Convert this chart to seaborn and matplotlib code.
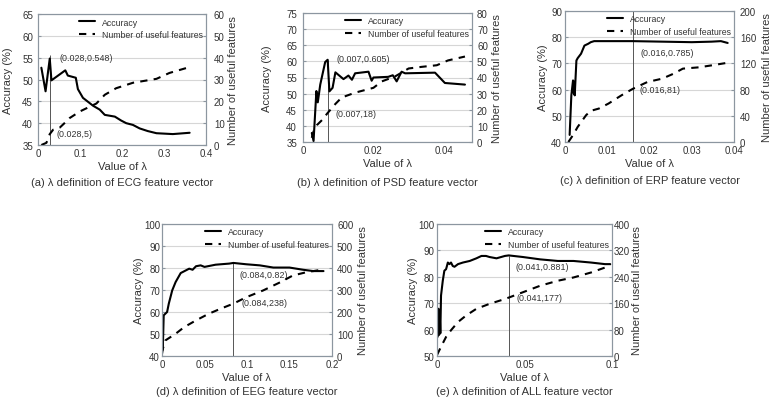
import matplotlib
matplotlib.use('Agg')
import matplotlib.pyplot as plt
import seaborn as sns

sns.set_style('white')
plt.rcParams['font.family'] = ['Liberation Sans', 'DejaVu Sans']

# ---------------- data ----------------
# (a) ECG
ecg_lam_acc = [0.008, 0.018, 0.028, 0.032, 0.065, 0.071, 0.090, 0.095, 0.107, 0.131, 0.147,
               0.159, 0.183, 0.198, 0.210, 0.226, 0.242, 0.261, 0.282, 0.321, 0.361]
ecg_acc = [52.7, 47.3, 54.8, 49.8, 52.1, 50.9, 50.4, 47.8, 45.8, 44.0, 43.1,
           41.9, 41.5, 40.6, 40.0, 39.6, 38.8, 38.2, 37.7, 37.5, 37.8]
ecg_lam_n = [0.008, 0.020, 0.028, 0.036, 0.052, 0.063, 0.075, 0.100, 0.139, 0.159, 0.186,
             0.226, 0.282, 0.313, 0.361]
ecg_n = [0, 1, 5, 7, 8, 10, 12.3, 15.4, 19, 23, 26, 28.5, 30.3, 33, 35.7]

# (b) PSD
psd_lam_acc = [0.0025, 0.003, 0.0038, 0.0042, 0.0049, 0.0063, 0.007, 0.0075, 0.0084, 0.0092,
               0.0115, 0.0129, 0.0139, 0.0148, 0.0186, 0.0195, 0.020, 0.0242, 0.0255, 0.0266,
               0.028, 0.029, 0.0375, 0.0403, 0.046]
psd_acc = [37.8, 35.3, 50.8, 47.3, 52.8, 59.8, 60.5, 50.7, 51.8, 56.6,
           54.5, 55.6, 54.3, 56.3, 56.8, 54.0, 55.0, 55.2, 55.7, 53.8,
           56.8, 56.3, 56.5, 53.3, 52.8]
psd_lam_n = [0.0025, 0.003, 0.004, 0.0054, 0.007, 0.0092, 0.011, 0.0148, 0.020, 0.0224,
             0.0261, 0.030, 0.0337, 0.038, 0.0412, 0.046]
psd_n = [2.6, 6.6, 10.6, 13.6, 18, 23.6, 27.6, 30.6, 33.6, 37.6, 40.6, 45.6, 46.6, 47.6, 50.6, 53]

# (c) ERP
erp_lam_acc = [0.0011, 0.0015, 0.0019, 0.0021, 0.0022, 0.0023, 0.0027, 0.003, 0.0038, 0.0046,
               0.0055, 0.0061, 0.0069, 0.016, 0.030, 0.0347, 0.0369, 0.0385]
erp_acc = [42.7, 57.8, 63.5, 58.5, 63.0, 57.8, 71.1, 72.0, 73.7, 76.8,
           77.5, 78.1, 78.5, 78.5, 78.1, 78.3, 78.5, 77.8]
erp_lam_n = [0.0008, 0.0019, 0.003, 0.005, 0.0061, 0.008, 0.0103, 0.0134, 0.016, 0.0195,
             0.023, 0.0256, 0.0279, 0.0317, 0.0347, 0.0385]
erp_n = [0, 10.6, 23, 41, 47.6, 51, 58.7, 71.4, 81, 91.6, 96.7, 104, 112, 114, 117, 121]

# (d) EEG
eeg_lam_acc = [0.0, 0.0004, 0.0012, 0.002, 0.006, 0.008, 0.012, 0.016, 0.022, 0.028, 0.032,
               0.036, 0.040, 0.0455, 0.050, 0.063, 0.079, 0.084, 0.099, 0.115, 0.131, 0.150,
               0.166, 0.178, 0.190]
eeg_acc = [53.2, 42.6, 47.1, 58.5, 60.0, 63.8, 69.8, 73.6, 77.7, 78.9, 79.7,
           79.2, 80.8, 81.2, 80.5, 81.5, 82.0, 82.3, 81.7, 81.2, 80.2, 80.2,
           79.2, 78.6, 78.6]
eeg_lam_n = [0.0, 0.001, 0.004, 0.010, 0.016, 0.026, 0.040, 0.055, 0.069, 0.084, 0.099,
             0.119, 0.139, 0.154, 0.170, 0.186, 0.190]
eeg_n = [10, 33, 71, 86, 101, 131, 162, 192, 215, 238, 267, 298, 335, 366, 381, 391, 396]

# (e) ALL
all_lam_acc = [0.0004, 0.0008, 0.0012, 0.0015, 0.0019, 0.0023, 0.0033, 0.0042, 0.0052, 0.0062,
               0.0071, 0.008, 0.009, 0.010, 0.012, 0.0148, 0.0187, 0.0225, 0.0254, 0.028,
               0.030, 0.034, 0.0388, 0.041, 0.049, 0.059, 0.069, 0.078, 0.088, 0.096, 0.099]
all_acc = [57.3, 67.9, 58.0, 67.3, 58.6, 72.9, 78.5, 82.3, 82.9, 85.4,
           84.8, 85.4, 84.1, 83.8, 84.8, 85.4, 86.0, 87.0, 87.9, 87.9,
           87.5, 87.0, 87.9, 88.1, 87.5, 86.6, 86.0, 86.0, 85.4, 84.8, 84.8]
all_lam_n = [0.0, 0.0023, 0.0052, 0.008, 0.012, 0.0167, 0.0225, 0.030, 0.039, 0.041, 0.049,
             0.059, 0.069, 0.078, 0.088, 0.096, 0.099]
all_n = [3, 28, 58, 78, 103, 123, 143, 158, 173, 177, 193, 213, 228, 238, 253, 268, 278]

captions = ["(a) λ definition of ECG feature vector",
            "(b) λ definition of PSD feature vector",
            "(c) λ definition of ERP feature vector",
            "(d) λ definition of EEG feature vector",
            "(e) λ definition of ALL feature vector"]
best_lam = [0.028, 0.007, 0.016, 0.084, 0.041]
best_acc = [0.548, 0.605, 0.785, 0.82, 0.881]
best_n = [5, 18, 81, 238, 177]

W, H = 774, 402
TXT = '#333333'
EDGE = '#8c96a0'
GRID = '#d6d6d6'

panels = [
    # rect in pixels (x0, y0, x1, y1), ylabel offsets and tick-label gaps (px, left / right),
    # caption y (px), vline top and annotation spots in left-axis units
    dict(rect=(38, 15, 206, 146), off=(30, 27), gap=(5, 8), cap=183,
         lam_acc=ecg_lam_acc, acc=ecg_acc, lam_n=ecg_lam_n, n=ecg_n,
         xlim=(0, 0.4), xt=[0, 0.1, 0.2, 0.3, 0.4], yl=(35, 65, 5), yr=(0, 60, 10),
         vtop=55.5, a1=(0.05, 55.0), a2=(0.045, 37.7)),
    dict(rect=(303, 14, 472, 143), off=(36, 26), gap=(6, 5), cap=183,
         lam_acc=psd_lam_acc, acc=psd_acc, lam_n=psd_lam_n, n=psd_n,
         xlim=(0, 0.048), xt=[0, 0.02, 0.04], yl=(35, 75, 5), yr=(0, 80, 10),
         vtop=60.5, a1=(0.0095, 60.8), a2=(0.0092, 43.8)),
    dict(rect=(565, 12, 734, 143), off=(23, 33), gap=(3, 6), cap=181,
         lam_acc=erp_lam_acc, acc=erp_acc, lam_n=erp_lam_n, n=erp_n,
         xlim=(0, 0.04), xt=[0, 0.01, 0.02, 0.03, 0.04], yl=(40, 90, 10), yr=(0, 200, 40),
         vtop=90, a1=(0.0178, 74.3), a2=(0.0176, 60.1)),
    dict(rect=(162, 225, 332, 357), off=(24, 31), gap=(2, 5), cap=392,
         lam_acc=eeg_lam_acc, acc=eeg_acc, lam_n=eeg_lam_n, n=eeg_n,
         xlim=(0, 0.2), xt=[0, 0.05, 0.1, 0.15, 0.2], yl=(40, 100, 10), yr=(0, 600, 100),
         vtop=82.3, a1=(0.091, 77.0), a2=(0.093, 64.2)),
    dict(rect=(437, 225, 612, 357), off=(24, 26), gap=(3, 1.5), cap=392,
         lam_acc=all_lam_acc, acc=all_acc, lam_n=all_lam_n, n=all_n,
         xlim=(0, 0.1), xt=[0, 0.05, 0.1], yl=(50, 100, 10), yr=(0, 400, 80),
         vtop=88.0, a1=(0.045, 83.8), a2=(0.0456, 72.0)),
]

fig = plt.figure(figsize=(W / 100, H / 100), dpi=100)

for i, p in enumerate(panels):
    x0, y0, x1, y1 = p['rect']
    w = x1 - x0
    ax = fig.add_axes([x0 / W, 1 - y1 / H, w / W, (y1 - y0) / H])
    ax2 = ax.twinx()

    sns.lineplot(x=p['lam_acc'], y=p['acc'], ax=ax, color='black', lw=1.5,
                 label='Accuracy', legend=False)
    sns.lineplot(x=p['lam_n'], y=p['n'], ax=ax2, color='black', lw=1.5,
                 linestyle=(0, (3.5, 3)), label='Number of useful features', legend=False)

    lo, hi, st = p['yl']
    ax.set_ylim(lo, hi)
    ax.set_yticks(range(lo, hi + 1, st))
    rlo, rhi, rst = p['yr']
    ax2.set_ylim(rlo, rhi)
    ax2.set_yticks(range(rlo, rhi + 1, rst))
    ax.set_xlim(*p['xlim'])
    ax.set_xticks(p['xt'])
    ax.set_xticklabels(['%g' % v for v in p['xt']])

    ax.vlines(best_lam[i], lo, p['vtop'], color='#555555', lw=0.7, zorder=1)

    ax.yaxis.grid(True, color=GRID, lw=0.8)
    ax.xaxis.grid(False)
    ax2.grid(False)
    for a in (ax, ax2):
        for s in a.spines.values():
            s.set_color(EDGE)
            s.set_linewidth(0.8)
        a.tick_params(labelsize=7, labelcolor=TXT, colors=EDGE, length=2, direction='in')
        a.tick_params(labelcolor=TXT)
    ax.tick_params(axis='x', pad=2.5)
    ax.tick_params(axis='y', pad=p['gap'][0] * 0.72)
    ax2.tick_params(axis='y', pad=p['gap'][1] * 0.72)

    ax.set_xlabel('Value of λ', fontsize=8, color=TXT, labelpad=2)
    ax.set_ylabel('Accuracy (%)', fontsize=8, color=TXT)
    ax2.set_ylabel('Number of useful features', fontsize=8, color=TXT)
    ax.yaxis.set_label_coords(-(p['off'][0] - 5.5) / w, 0.5)
    ax2.yaxis.set_label_coords(1 + (p['off'][1] - 5.5) / w, 0.5)

    ax.text(*p['a1'], '(%g,%g)' % (best_lam[i], best_acc[i]), fontsize=6.4, color=TXT,
            va='center', ha='left')
    ax.text(*p['a2'], '(%g,%g)' % (best_lam[i], best_n[i]), fontsize=6.4, color=TXT,
            va='center', ha='left')

    handles = ax.get_lines()[:1] + ax2.get_lines()[:1]
    ax2.legend(handles, ['Accuracy', 'Number of useful features'], loc='upper right',
               bbox_to_anchor=(1.0, 1.0), frameon=False, fontsize=6.3, handlelength=1.9,
               handletextpad=0.7, labelspacing=0.4, borderaxespad=0, labelcolor=TXT)

    fig.text((x0 + x1) / 2 / W, 1 - p['cap'] / H, captions[i], ha='center', va='center',
             fontsize=8, color=TXT)

fig.savefig('out.png', dpi=100)
